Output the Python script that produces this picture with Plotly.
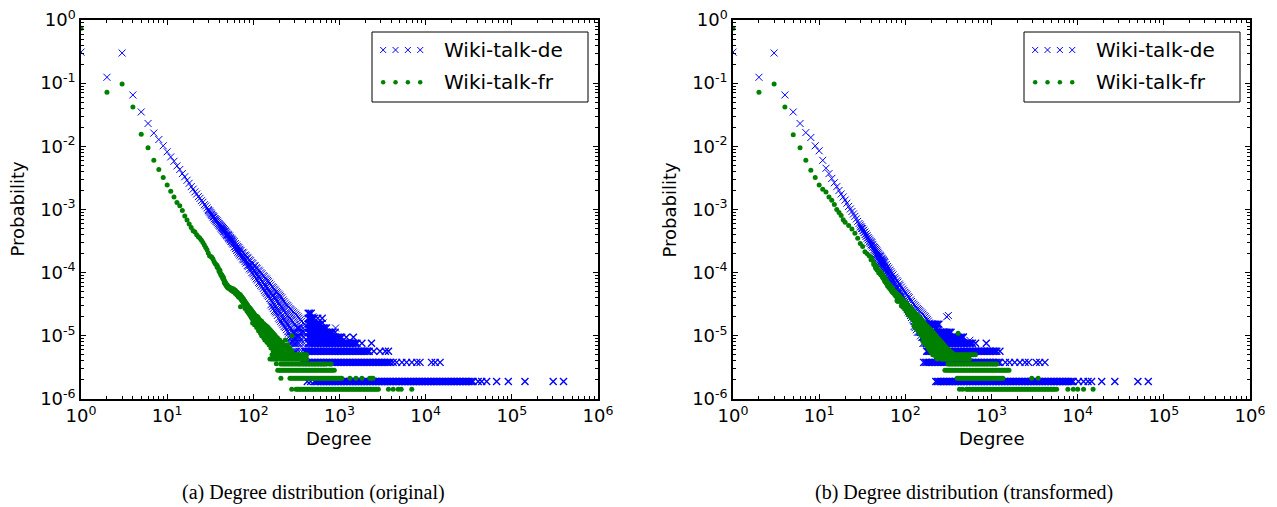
import plotly.graph_objects as go

# Degrees sampled along the dense tail rows (integer degrees, roughly 1.5 px apart on the axis)
deg_grid = [150, 156, 163, 170, 177, 184, 192, 200, 208, 217, 226, 235, 245, 255, 266, 277, 288, 300,
            313, 326, 339, 353, 368, 383, 399, 416, 433, 451, 470, 490, 510, 531, 553, 576, 600, 625,
            651, 678, 706, 736, 766, 798, 831, 866, 902, 940, 979, 1020, 1062, 1107, 1152, 1200, 1250,
            1302, 1356, 1413, 1471, 1533, 1596, 1663, 1732, 1804, 1879, 1958, 2039, 2124, 2212, 2305,
            2400, 2500, 2604, 2713, 2825, 2943, 3065, 3193, 3326, 3465, 3609, 3760, 3915, 4079, 4248,
            4425, 4609, 4802, 5001, 5210, 5426, 5653, 5887, 6133, 6387, 6654, 6930, 7220, 7519, 7833,
            8158, 8499, 8851, 9221, 9603, 10004, 10419, 10855, 11305, 11778, 12266, 12779, 13308,
            13865, 14439, 15043, 15667, 16322, 16998, 17709, 18443, 19214, 20011, 20848, 21712, 22620,
            23557, 24542, 25560, 26629, 27732, 28892, 30089, 31347, 32647, 34012, 35422]

# ======================= (a) original =======================
# Wiki-talk-de : one value per small degree
de_orig_head_deg = [1, 2, 3, 4, 5, 6, 7, 8, 9, 10, 11, 12, 13, 14, 15, 16, 17, 18, 19, 20]
de_orig_head_prob = [0.31, 0.124, 0.30, 0.065, 0.035, 0.023, 0.0162, 0.0128, 0.0102, 0.0082,
                     0.0068, 0.0058, 0.0049, 0.0043, 0.0037, 0.0033, 0.0029, 0.0026, 0.0023, 0.0021]
# Wiki-talk-de : scattered middle part (degree, probabilities)
de_orig_cloud = [
    (21, [1.9e-3]), (22, [1.76e-3]), (23, [1.6e-3]), (24, [1.5e-3]), (25, [1.38e-3]),
    (26, [1.3e-3]), (27, [1.19e-3]), (28, [1.14e-3]), (29, [1.06e-3]), (30, [1.0e-3, 9.6e-4]),
    (31, [9.5e-4, 9.1e-4]), (32, [8.9e-4, 8.5e-4]), (33, [8.4e-4, 8.0e-4]), (34, [8.0e-4, 7.6e-4]),
    (35, [7.6e-4, 7.1e-4]), (36, [7.2e-4, 6.8e-4]), (37, [6.9e-4, 6.5e-4]), (38, [6.6e-4, 6.2e-4]),
    (39, [6.3e-4, 5.9e-4]), (40, [6.0e-4, 5.6e-4]), (41, [5.8e-4, 5.4e-4]), (42, [5.6e-4, 5.1e-4]),
    (43, [5.4e-4, 4.9e-4]), (44, [5.2e-4, 4.7e-4]), (45, [5.0e-4, 4.5e-4]), (46, [4.8e-4, 4.4e-4]),
    (47, [4.6e-4, 4.2e-4]), (48, [4.5e-4, 4.0e-4]), (49, [4.3e-4, 3.9e-4]), (50, [4.1e-4, 3.8e-4]),
    (51, [4.0e-4, 3.6e-4]), (52, [3.9e-4, 3.5e-4]), (53, [3.8e-4, 3.4e-4]), (54, [3.6e-4, 3.3e-4]),
    (55, [3.5e-4, 3.15e-4]), (56, [3.4e-4, 3.1e-4]), (57, [3.3e-4, 2.95e-4]), (58, [3.2e-4, 2.85e-4]),
    (60, [3.1e-4, 2.8e-4, 2.55e-4]), (62, [2.9e-4, 2.6e-4, 2.4e-4]), (64, [2.75e-4, 2.45e-4, 2.25e-4]),
    (66, [2.6e-4, 2.3e-4, 2.1e-4]), (68, [2.5e-4, 2.2e-4, 2.0e-4]), (70, [2.35e-4, 2.1e-4, 1.9e-4]),
    (72, [2.25e-4, 2.0e-4, 1.8e-4]), (75, [2.1e-4, 1.85e-4, 1.65e-4]), (77, [2.05e-4, 1.8e-4, 1.6e-4]),
    (80, [1.9e-4, 1.65e-4, 1.5e-4]), (82, [1.85e-4, 1.6e-4, 1.42e-4]), (85, [1.75e-4, 1.5e-4, 1.3e-4]),
    (87, [1.7e-4, 1.45e-4, 1.25e-4]), (90, [1.6e-4, 1.35e-4, 1.15e-4]), (93, [1.55e-4, 1.3e-4, 1.1e-4]),
    (96, [1.45e-4, 1.2e-4, 1.0e-4]), (99, [1.4e-4, 1.15e-4, 9.6e-5]), (102, [1.3e-4, 1.08e-4, 9.0e-5]),
    (105, [1.28e-4, 1.02e-4, 8.6e-5]), (108, [1.2e-4, 9.6e-5, 8.0e-5]), (111, [1.17e-4, 9.2e-5, 7.6e-5]),
    (115, [1.1e-4, 8.6e-5, 7.0e-5]), (118, [1.06e-4, 8.2e-5, 6.7e-5]), (122, [1.0e-4, 7.7e-5, 6.3e-5]),
    (126, [9.6e-5, 7.3e-5, 6.0e-5]), (130, [9.0e-5, 7.0e-5, 5.6e-5]), (134, [8.7e-5, 6.6e-5, 5.2e-5]),
    (138, [8.2e-5, 6.2e-5, 4.9e-5]), (142, [7.9e-5, 5.9e-5, 4.7e-5]), (146, [7.5e-5, 5.6e-5, 4.4e-5]),
    (150, [7.2e-5, 5.3e-5, 4.2e-5]), (155, [6.8e-5, 5.0e-5, 3.9e-5]),
    (160, [6.4e-5, 4.8e-5, 3.7e-5, 3.1e-5]), (165, [6.0e-5, 4.5e-5, 3.5e-5, 2.9e-5]),
    (170, [5.8e-5, 4.3e-5, 3.3e-5, 2.7e-5]), (175, [5.5e-5, 4.0e-5, 3.1e-5, 2.5e-5]),
    (180, [5.3e-5, 3.9e-5, 2.9e-5, 2.4e-5]), (185, [5.0e-5, 3.7e-5, 2.7e-5, 2.3e-5]),
    (190, [4.8e-5, 3.5e-5, 2.6e-5, 2.1e-5]), (196, [4.6e-5, 3.3e-5, 2.5e-5, 1.9e-5]),
    (202, [4.4e-5, 3.1e-5, 2.4e-5, 1.8e-5]), (208, [4.2e-5, 2.9e-5, 2.3e-5, 1.7e-5]),
    (214, [4.0e-5, 2.8e-5, 2.1e-5, 1.6e-5]), (220, [3.7e-5, 2.7e-5, 1.9e-5, 1.5e-5]),
    (227, [3.5e-5, 2.5e-5, 1.8e-5, 1.4e-5]), (235, [3.3e-5, 2.3e-5, 1.7e-5, 1.35e-5]),
    (242, [3.1e-5, 2.2e-5, 1.6e-5, 1.25e-5]), (250, [3.0e-5, 2.1e-5, 1.54e-5, 1.16e-5]),
    (257, [2.85e-5, 2.0e-5, 1.45e-5, 1.1e-5, 9.5e-6]), (265, [2.7e-5, 1.9e-5, 1.35e-5, 1.0e-5, 7.6e-6]),
    (272, [2.6e-5, 1.8e-5, 1.3e-5, 9.5e-6, 7.6e-6]), (280, [2.5e-5, 1.75e-5, 1.16e-5, 9.5e-6, 7.6e-6]),
    (290, [2.4e-5, 1.65e-5, 1.14e-5, 9.5e-6, 7.6e-6, 5.7e-6]),
    (300, [2.3e-5, 1.52e-5, 1.14e-5, 9.5e-6, 7.6e-6, 5.7e-6]),
    (310, [2.2e-5, 1.43e-5, 1.14e-5, 9.5e-6, 7.6e-6, 5.7e-6]),
    (320, [2.1e-5, 1.33e-5, 9.5e-6, 7.6e-6, 5.7e-6]), (330, [2.0e-5, 1.33e-5, 1.14e-5, 9.5e-6, 7.6e-6]),
    (340, [1.9e-5, 1.33e-5, 9.5e-6, 7.6e-6, 5.7e-6]), (352, [1.8e-5, 1.33e-5, 1.14e-5, 9.5e-6]),
    (365, [1.71e-5, 1.14e-5, 7.6e-6, 5.7e-6]), (378, [1.6e-5, 1.33e-5, 1.14e-5, 9.5e-6]),
    (390, [1.52e-5, 1.14e-5, 9.5e-6, 7.6e-6, 5.7e-6]),
    (490, [2.0e-5]), (645, [1.6e-5]), (900, [1.33e-5]),
]
# Wiki-talk-de : tail rows -> (probability level, first degree, last degree of the solid run, isolated degrees)
de_orig_rows = [
    (1.9e-6, 508, 35422, [423, 462, 40700, 44700, 51000, 66600, 91000, 142000, 302000, 398000]),
    (3.8e-6, 368, 3915, [4200, 4600, 5300, 6000, 6900, 7900, 8600, 11700, 12900, 14700]),
    (5.7e-6, 399, 2212, [2500, 2950, 3400, 3700]),
    (7.6e-6, 433, 1596, [1820, 2350]),
    (9.5e-6, 433, 1062, [1200, 1450]),
    (1.14e-5, 433, 831, [890]),
    (1.33e-5, 433, 706, []),
    (1.52e-5, 433, 600, []),
    (1.9e-5, 433, 510, [560, 630]),
    (2.28e-5, 433, 470, []),
]

# Wiki-talk-fr
fr_orig_head_deg = [1, 2, 3, 4, 5, 6, 7, 8, 9, 10, 11, 12, 13, 14, 15, 16, 17, 18, 19, 20, 21]
fr_orig_head_prob = [0.74, 0.072, 0.097, 0.042, 0.0155, 0.0095, 0.006, 0.0043, 0.0032, 0.00245,
                     0.00195, 0.00158, 0.00129, 0.00115, 0.00096, 0.00079, 0.00068, 0.00059,
                     0.00052, 0.00046, 0.00044]
fr_orig_cloud = [
    (22, [4.0e-4]), (23, [3.7e-4]), (24, [3.5e-4]), (25, [3.25e-4]), (26, [3.0e-4]), (27, [2.75e-4]),
    (28, [2.5e-4]), (29, [2.3e-4]), (30, [2.05e-4]), (31, [1.85e-4]), (32, [1.8e-4]), (33, [1.75e-4]),
    (34, [1.65e-4]), (35, [1.5e-4]), (36, [1.4e-4]), (37, [1.35e-4]), (38, [1.3e-4, 1.22e-4]),
    (39, [1.2e-4]), (40, [1.12e-4, 1.05e-4]), (41, [1.08e-4, 1.0e-4]), (42, [9.6e-5, 9.2e-5]),
    (43, [9.3e-5, 8.8e-5]), (44, [8.8e-5, 8.2e-5]), (45, [8.4e-5, 7.8e-5]), (46, [7.6e-5, 7.0e-5]),
    (47, [7.2e-5, 6.7e-5]), (48, [6.8e-5, 6.4e-5]), (49, [6.5e-5, 6.1e-5]), (50, [6.3e-5, 5.9e-5]),
    (51, [6.1e-5, 5.7e-5]), (53, [5.9e-5, 5.5e-5]), (55, [5.7e-5, 5.3e-5]), (56, [5.6e-5, 5.2e-5]),
    (58, [5.5e-5, 5.1e-5]), (59, [5.5e-5, 5.0e-5]), (61, [5.3e-5, 4.8e-5]), (62, [5.2e-5, 4.7e-5]),
    (64, [5.0e-5, 4.5e-5]), (65, [4.9e-5, 4.4e-5]), (67, [4.7e-5, 4.2e-5]), (68, [4.6e-5, 4.1e-5]),
    (70, [4.5e-5, 4.0e-5]), (71, [4.4e-5, 3.9e-5, 2.9e-5]), (73, [4.2e-5, 3.7e-5]),
    (74, [4.1e-5, 3.6e-5]), (76, [3.9e-5, 3.4e-5]), (77, [3.8e-5, 3.3e-5]), (79, [3.6e-5, 3.2e-5]),
    (80, [3.5e-5, 3.1e-5, 2.7e-5]), (82, [3.35e-5, 2.95e-5]), (84, [3.2e-5, 2.8e-5, 2.5e-5]),
    (86, [3.05e-5, 2.7e-5, 2.4e-5]), (88, [2.9e-5, 2.6e-5, 2.3e-5]), (90, [2.8e-5, 2.5e-5, 2.2e-5]),
    (92, [2.7e-5, 2.4e-5, 2.1e-5]), (94, [2.6e-5, 2.3e-5, 2.0e-5]), (96, [2.5e-5, 2.2e-5, 1.9e-5]),
    (98, [2.4e-5, 2.1e-5, 1.85e-5, 1.6e-5]), (101, [2.3e-5, 2.0e-5, 1.8e-5]),
    (103, [2.2e-5, 1.95e-5, 1.7e-5, 1.5e-5]), (106, [2.1e-5, 1.85e-5, 1.6e-5]),
    (109, [2.05e-5, 1.8e-5, 1.55e-5, 1.35e-5]), (112, [2.0e-5, 1.7e-5, 1.5e-5]),
    (115, [1.9e-5, 1.65e-5, 1.4e-5, 1.2e-5]), (118, [1.8e-5, 1.6e-5, 1.35e-5]),
    (121, [1.75e-5, 1.5e-5, 1.3e-5, 1.1e-5]),
    (125, [1.7e-5, 1.45e-5, 1.25e-5, 1.0e-5]), (128, [1.6e-5, 1.4e-5, 1.2e-5, 1.0e-5]),
    (132, [1.55e-5, 1.35e-5, 1.15e-5, 9.3e-6]), (136, [1.5e-5, 1.25e-5, 1.07e-5, 8.6e-6]),
    (140, [1.45e-5, 1.2e-5, 1.0e-5, 8.6e-6]), (144, [1.4e-5, 1.15e-5, 9.3e-6, 7.9e-6]),
    (148, [1.35e-5, 1.1e-5, 9.3e-6, 7.9e-6]), (152, [1.3e-5, 1.07e-5, 8.6e-6, 7.2e-6]),
    (156, [1.25e-5, 1.0e-5, 8.6e-6, 7.2e-6]), (160, [1.2e-5, 9.3e-6, 7.9e-6, 6.4e-6]),
    (165, [1.15e-5, 9.3e-6, 7.9e-6, 6.4e-6, 5.0e-6]), (170, [1.1e-5, 8.6e-6, 7.2e-6, 5.7e-6, 5.0e-6]),
    (175, [1.05e-5, 8.6e-6, 7.2e-6, 5.7e-6]), (180, [1.0e-5, 7.9e-6, 6.4e-6, 5.0e-6]),
    (185, [9.3e-6, 7.9e-6, 6.4e-6, 5.0e-6, 3.6e-6]), (190, [9.3e-6, 7.2e-6, 5.7e-6]),
    (196, [8.6e-6, 7.2e-6, 5.7e-6, 5.0e-6]), (202, [8.6e-6, 6.4e-6, 5.0e-6]),
    (208, [7.9e-6, 6.4e-6, 5.0e-6]), (214, [7.9e-6, 5.7e-6]),
    (220, [7.2e-6, 5.7e-6, 5.0e-6]), (227, [7.2e-6, 5.0e-6]),
    (235, [8.6e-6, 6.4e-6, 5.0e-6]), (242, [6.4e-6, 5.0e-6]),
    (250, [7.2e-6, 5.7e-6, 5.0e-6]), (257, [5.7e-6]),
    (265, [6.4e-6, 5.0e-6]), (280, [1.0e-5, 5.7e-6]), (300, [5.0e-6]),
    (209, [2.14e-6]),
]
fr_orig_rows = [
    (1.43e-6, 313, 2825, [279, 3700, 4200, 4800, 5200, 6900]),
    (2.14e-6, 266, 1062, [1320, 1550, 1820, 2240, 2340, 2450]),
    (2.86e-6, 192, 831, [870]),
    (3.57e-6, 208, 706, [768, 800]),
    (4.29e-6, 156, 416, []),
    (5.0e-6, 288, 416, []),
]

# ======================= (b) transformed =======================
de_tran_head_deg = [1, 2, 3, 4, 5, 6, 7, 8, 9, 10, 11, 12, 13, 14, 15, 16, 17, 18, 19, 20, 21,
                    22, 23, 24, 25, 26, 27, 28, 29]
de_tran_head_prob = [0.31, 0.124, 0.30, 0.065, 0.035, 0.023, 0.0165, 0.0138, 0.0102, 0.0085,
                     0.006, 0.0045, 0.0037, 0.0031, 0.00265, 0.0023, 0.002, 0.00176, 0.00158,
                     0.00141, 0.00126, 0.00112, 0.00102, 9.3e-4, 8.5e-4, 7.8e-4, 7.1e-4, 6.5e-4, 6.0e-4]
de_tran_cloud = [
    (30, [5.7e-4, 5.3e-4]), (31, [5.3e-4, 5.0e-4]), (32, [5.0e-4, 4.6e-4]), (33, [4.7e-4, 4.3e-4]),
    (34, [4.4e-4, 4.0e-4]), (35, [4.1e-4, 3.75e-4]), (36, [3.85e-4, 3.5e-4]), (37, [3.6e-4, 3.3e-4]),
    (38, [3.4e-4, 3.05e-4]), (39, [3.25e-4, 2.9e-4]), (40, [3.1e-4, 2.75e-4]), (41, [3.0e-4, 2.65e-4]),
    (42, [2.8e-4, 2.5e-4]), (43, [2.6e-4, 2.3e-4]), (44, [2.5e-4, 2.2e-4]), (45, [2.4e-4, 2.1e-4]),
    (46, [2.3e-4, 2.0e-4, 1.9e-4]), (47, [2.2e-4, 1.9e-4, 1.8e-4]), (48, [2.1e-4, 1.8e-4, 1.7e-4]),
    (49, [2.0e-4, 1.75e-4, 1.6e-4]), (50, [1.9e-4, 1.7e-4, 1.55e-4]), (51, [1.85e-4, 1.6e-4, 1.48e-4]),
    (52, [1.8e-4, 1.55e-4, 1.4e-4]), (53, [1.7e-4, 1.5e-4, 1.35e-4]), (54, [1.65e-4, 1.45e-4, 1.28e-4]),
    (55, [1.6e-4, 1.38e-4, 1.22e-4]), (56, [1.55e-4, 1.33e-4, 1.17e-4]), (57, [1.5e-4, 1.28e-4, 1.12e-4]),
    (58, [1.45e-4, 1.22e-4, 1.08e-4]), (60, [1.35e-4, 1.15e-4, 1.0e-4]),
    (62, [1.25e-4, 1.07e-4, 9.2e-5]), (64, [1.18e-4, 1.0e-4, 8.5e-5]), (66, [1.1e-4, 9.2e-5, 7.8e-5]),
    (68, [1.04e-4, 8.6e-5, 7.3e-5]), (70, [9.8e-5, 8.1e-5, 6.8e-5]), (72, [9.2e-5, 7.6e-5, 6.3e-5]),
    (75, [8.5e-5, 6.9e-5, 5.8e-5]), (77, [8.0e-5, 6.5e-5, 5.4e-5]), (80, [7.5e-5, 6.0e-5, 4.9e-5]),
    (82, [7.1e-5, 5.7e-5, 4.6e-5]), (85, [6.6e-5, 5.2e-5, 4.2e-5]), (87, [6.3e-5, 4.9e-5, 4.0e-5]),
    (90, [5.9e-5, 4.6e-5, 3.7e-5]), (93, [5.5e-5, 4.3e-5, 3.4e-5]), (96, [5.2e-5, 4.0e-5, 3.2e-5]),
    (99, [4.9e-5, 3.7e-5, 3.0e-5]), (102, [4.7e-5, 3.5e-5, 2.8e-5]), (105, [4.45e-5, 3.3e-5, 2.6e-5]),
    (108, [4.2e-5, 3.1e-5, 2.4e-5]), (111, [4.0e-5, 2.9e-5, 2.25e-5]), (115, [3.7e-5, 2.7e-5, 2.1e-5]),
    (118, [3.5e-5, 2.55e-5, 1.95e-5]), (122, [3.3e-5, 2.4e-5, 1.8e-5]),
    (126, [3.15e-5, 2.25e-5, 1.7e-5, 1.4e-5]), (130, [3.0e-5, 2.1e-5, 1.6e-5, 1.35e-5]),
    (134, [2.85e-5, 2.0e-5, 1.52e-5, 1.25e-5]), (138, [2.7e-5, 1.9e-5, 1.45e-5, 1.14e-5]),
    (142, [2.6e-5, 1.82e-5, 1.4e-5, 1.14e-5]), (146, [2.5e-5, 1.75e-5, 1.33e-5, 1.14e-5]),
    (150, [2.4e-5, 1.65e-5, 1.25e-5, 1.0e-5]), (155, [2.3e-5, 1.55e-5, 1.14e-5, 9.5e-6]),
    (160, [2.2e-5, 1.5e-5, 1.14e-5, 9.5e-6, 7.6e-6]), (165, [2.1e-5, 1.4e-5, 1.14e-5, 9.5e-6, 7.6e-6]),
    (170, [2.0e-5, 1.36e-5, 1.05e-5, 8.5e-6, 7.6e-6]), (175, [1.9e-5, 1.33e-5, 9.5e-6, 7.6e-6]),
    (180, [1.8e-5, 1.25e-5, 9.5e-6, 7.6e-6, 5.7e-6]), (185, [1.71e-5, 1.14e-5, 9.5e-6, 7.6e-6, 5.7e-6]),
    (190, [1.6e-5, 1.14e-5, 9.5e-6, 7.6e-6, 5.7e-6]), (196, [1.52e-5, 1.14e-5, 9.5e-6, 7.6e-6, 5.7e-6]),
    (202, [1.52e-5, 1.14e-5, 8.5e-6, 7.6e-6, 5.7e-6]), (208, [1.52e-5, 1.14e-5, 7.6e-6, 5.7e-6]),
    (214, [1.42e-5, 1.05e-5, 7.6e-6, 5.7e-6]), (220, [1.33e-5, 9.5e-6, 7.6e-6, 5.7e-6]),
    (227, [1.33e-5, 9.5e-6, 7.6e-6, 5.7e-6]), (235, [1.33e-5, 9.5e-6, 7.6e-6, 5.7e-6]),
    (242, [1.25e-5, 9.5e-6, 7.6e-6, 5.7e-6]), (250, [1.14e-5, 7.6e-6, 5.7e-6]),
    (265, [1.14e-5, 9.5e-6, 7.6e-6, 5.7e-6]), (280, [1.14e-5, 7.6e-6, 5.7e-6]),
    (302, [2.0e-5]), (316, [2.1e-5]), (470, [9.7e-6]), (560, [8.5e-6]),
]
de_tran_rows = [
    (1.9e-6, 226, 8851, [10200, 11700, 13200, 14500, 19000, 27000, 50000, 66000]),
    (3.8e-6, 163, 1250, [1450, 1620, 1860, 2140, 2450, 2690, 3300, 3630, 4170]),
    (5.7e-6, 177, 1152, [1253]),
    (7.6e-6, 177, 600, [653, 870]),
    (9.5e-6, 163, 470, []),
    (1.14e-5, 150, 339, []),
    (1.52e-5, 150, 245, []),
]

fr_tran_head_deg = [1, 2, 3, 4, 5, 6, 7, 8, 9, 10, 11, 12, 13, 14, 15, 16, 17, 18, 19, 20]
fr_tran_head_prob = [0.74, 0.072, 0.097, 0.042, 0.0153, 0.0095, 0.006, 0.0042, 0.0032, 0.00245,
                     0.0021, 0.0019, 0.00158, 0.0014, 0.0012, 0.001, 9.0e-4, 8.0e-4, 6.9e-4, 6.3e-4]
fr_tran_cloud = [
    (22, [5.6e-4]), (24, [4.9e-4]), (26, [4.2e-4]), (28, [3.5e-4]), (30, [2.9e-4]), (32, [2.6e-4]),
    (34, [2.15e-4]), (36, [2.0e-4]), (38, [1.85e-4]), (40, [1.75e-4, 1.6e-4]), (41, [1.65e-4]),
    (43, [1.45e-4, 1.35e-4]), (45, [1.3e-4, 1.2e-4]), (46, [1.25e-4, 1.15e-4]), (47, [1.2e-4, 1.1e-4]),
    (49, [1.1e-4, 1.0e-4]), (51, [1.05e-4, 9.6e-5]), (52, [1.02e-4, 9.2e-5]), (54, [9.5e-5, 8.6e-5]),
    (55, [9.0e-5, 8.2e-5]), (57, [8.4e-5, 7.6e-5]), (58, [8.0e-5, 7.2e-5]), (60, [7.6e-5, 6.8e-5]),
    (62, [7.0e-5, 6.2e-5]), (64, [6.6e-5, 5.9e-5]), (66, [6.3e-5, 5.6e-5]), (68, [6.0e-5, 5.3e-5]),
    (70, [5.7e-5, 5.0e-5]), (72, [5.4e-5, 4.8e-5]), (75, [5.1e-5, 4.5e-5]), (77, [4.9e-5, 4.3e-5]),
    (80, [4.6e-5, 4.0e-5, 3.6e-5]), (82, [4.5e-5, 3.9e-5, 3.5e-5]), (85, [4.3e-5, 3.7e-5]),
    (87, [4.1e-5, 3.6e-5]), (90, [3.9e-5, 3.4e-5, 3.0e-5]), (93, [3.75e-5, 3.3e-5, 2.9e-5]),
    (96, [3.6e-5, 3.2e-5, 2.8e-5]), (99, [3.45e-5, 3.05e-5, 2.65e-5]), (102, [3.3e-5, 2.9e-5, 2.5e-5]),
    (105, [3.15e-5, 2.75e-5, 2.35e-5]), (108, [3.0e-5, 2.6e-5, 2.2e-5]), (111, [2.9e-5, 2.5e-5, 2.1e-5]),
    (115, [2.8e-5, 2.4e-5, 2.0e-5]), (118, [2.65e-5, 2.3e-5, 1.9e-5]), (122, [2.5e-5, 2.15e-5, 1.8e-5]),
    (126, [2.4e-5, 2.05e-5, 1.7e-5, 1.45e-5]), (130, [2.3e-5, 1.95e-5, 1.6e-5, 1.35e-5]),
    (134, [2.2e-5, 1.87e-5, 1.55e-5, 1.3e-5]), (138, [2.1e-5, 1.8e-5, 1.5e-5, 1.25e-5]),
    (142, [2.0e-5, 1.7e-5, 1.42e-5, 1.17e-5]), (146, [1.9e-5, 1.6e-5, 1.35e-5, 1.1e-5]),
    (150, [1.85e-5, 1.52e-5, 1.27e-5, 1.05e-5]), (155, [1.8e-5, 1.45e-5, 1.2e-5, 1.0e-5]),
    (160, [1.7e-5, 1.37e-5, 1.15e-5, 9.6e-6, 8.2e-6]), (165, [1.6e-5, 1.3e-5, 1.1e-5, 9.3e-6, 7.9e-6]),
    (170, [1.52e-5, 1.25e-5, 1.05e-5, 8.9e-6, 7.5e-6]), (175, [1.45e-5, 1.2e-5, 1.0e-5, 8.6e-6, 7.2e-6]),
    (180, [1.4e-5, 1.15e-5, 9.6e-6, 8.2e-6, 6.8e-6]), (185, [1.35e-5, 1.1e-5, 9.3e-6, 7.9e-6, 6.4e-6]),
    (190, [1.3e-5, 1.05e-5, 8.9e-6, 7.5e-6, 6.1e-6]), (196, [1.25e-5, 1.0e-5, 8.6e-6, 7.2e-6, 5.7e-6]),
    (202, [1.2e-5, 9.6e-6, 8.2e-6, 6.8e-6, 5.4e-6]), (208, [1.15e-5, 9.3e-6, 7.9e-6, 6.4e-6, 5.0e-6]),
    (214, [1.1e-5, 8.9e-6, 7.5e-6, 6.1e-6, 5.0e-6]), (220, [1.05e-5, 8.6e-6, 7.2e-6, 5.7e-6, 5.0e-6]),
    (227, [1.0e-5, 8.2e-6, 6.8e-6, 5.4e-6, 4.6e-6]), (235, [9.3e-6, 7.9e-6, 6.4e-6, 5.0e-6, 4.3e-6]),
    (242, [9.0e-6, 7.5e-6, 6.1e-6, 5.0e-6]), (250, [8.6e-6, 7.2e-6, 5.7e-6, 5.0e-6]),
    (257, [8.2e-6, 6.8e-6, 5.4e-6, 4.6e-6]), (265, [7.9e-6, 6.4e-6, 5.0e-6, 4.3e-6]),
    (272, [7.5e-6, 6.1e-6, 5.0e-6]), (280, [7.2e-6, 5.7e-6, 5.0e-6]), (290, [6.8e-6, 5.4e-6, 4.6e-6]),
    (300, [6.4e-6, 5.0e-6, 4.3e-6]), (315, [6.1e-6, 5.0e-6, 4.3e-6]), (330, [5.7e-6, 5.0e-6]),
    (350, [5.4e-6, 5.0e-6]), (410, [1.1e-5]),
]
fr_tran_rows = [
    (1.43e-6, 510, 5426, [425, 460, 5700, 7700, 8900, 10000, 11700, 15100]),
    (2.14e-6, 399, 1356, [2930, 3480]),
    (2.86e-6, 288, 1596, []),
    (3.57e-6, 313, 1152, []),
    (4.29e-6, 266, 553, []),
    (5.0e-6, 245, 651, []),
]

series_names = ["Wiki-talk-de", "Wiki-talk-fr"]
captions = ["(a) Degree distribution (original)", "(b) Degree distribution (transformed)"]
x_tick_vals = [1, 10, 100, 1000, 10000, 100000, 1000000]
x_tick_text = ["10<sup>0</sup>", "10<sup>1</sup>", "10<sup>2</sup>", "10<sup>3</sup>",
               "10<sup>4</sup>", "10<sup>5</sup>", "10<sup>6</sup>"]
y_tick_vals = [1e-6, 1e-5, 1e-4, 1e-3, 1e-2, 1e-1, 1]
y_tick_text = ["10<sup>-6</sup>", "10<sup>-5</sup>", "10<sup>-4</sup>", "10<sup>-3</sup>",
               "10<sup>-2</sup>", "10<sup>-1</sup>", "10<sup>0</sup>"]

BLUE = "#0000ff"
GREEN = "#008000"
FONT = "DejaVu Sans"
W, H = 1277, 507


def assemble(head_deg, head_prob, cloud, rows):
    """Flatten the pieces of one series into x, y and a 'dense row' flag per point."""
    xs, ys, dense = list(head_deg), list(head_prob), [False] * len(head_deg)
    for d, ps in cloud:
        for p in ps:
            xs.append(d)
            ys.append(p)
            dense.append(False)
    for lvl, first, last, extra in rows:
        degs = [d for d in deg_grid if first <= d <= last] + extra
        for d in degs:
            xs.append(d)
            ys.append(lvl)
            dense.append(True)
    return xs, ys, dense


panels = [
    (assemble(de_orig_head_deg, de_orig_head_prob, de_orig_cloud, de_orig_rows),
     assemble(fr_orig_head_deg, fr_orig_head_prob, fr_orig_cloud, fr_orig_rows)),
    (assemble(de_tran_head_deg, de_tran_head_prob, de_tran_cloud, de_tran_rows),
     assemble(fr_tran_head_deg, fr_tran_head_prob, fr_tran_cloud, fr_tran_rows)),
]

fig = go.Figure()

left_px = [81, 733]
plot_w = 517
top_px, bot_px = 20, 399

x_minor = [m * 10 ** e for e in range(0, 6) for m in range(2, 10)]
y_minor = [m * 10.0 ** e for e in range(-6, 0) for m in range(2, 10)]

layout = dict(
    width=W, height=H, margin=dict(l=0, r=0, t=0, b=0, autoexpand=False),
    paper_bgcolor="white", plot_bgcolor="white", showlegend=False,
    font=dict(family=FONT, color="black"), template="none",
)
shapes = []
annotations = []

for i, (de_xy, fr_xy) in enumerate(panels):
    n = "" if i == 0 else "2"
    xa, ya = "x" + n, "y" + n
    fig.add_trace(go.Scatter(
        x=de_xy[0], y=de_xy[1], mode="markers", name=series_names[0], xaxis=xa, yaxis=ya,
        marker=dict(symbol="x-thin", size=7, color=BLUE,
                    line=dict(width=[1.4 if d else 1.0 for d in de_xy[2]], color=BLUE)),
        cliponaxis=True))
    fig.add_trace(go.Scatter(
        x=fr_xy[0], y=fr_xy[1], mode="markers", name=series_names[1], xaxis=xa, yaxis=ya,
        marker=dict(symbol="circle", size=5, color=GREEN, line=dict(width=0)),
        cliponaxis=True))
    L = left_px[i]
    common = dict(type="log", showline=True, linecolor="black", linewidth=1.5, mirror="allticks",
                  ticks="inside", ticklen=5, tickwidth=1, tickcolor="black", showgrid=False,
                  zeroline=False, automargin=False, tickfont=dict(family=FONT, size=18, color="black"))
    minor = dict(ticks="inside", ticklen=3, tickwidth=1, tickcolor="black", showgrid=False,
                 tickmode="array")
    xax = dict(common, domain=[L / W, (L + plot_w) / W], range=[0, 6], anchor=ya,
               tickmode="array", tickvals=x_tick_vals, ticktext=x_tick_text,
               minor=dict(minor, tickvals=x_minor))
    yax = dict(common, domain=[1 - bot_px / H, 1 - top_px / H], range=[-6, 0], anchor=xa,
               tickmode="array", tickvals=y_tick_vals, ticktext=y_tick_text,
               minor=dict(minor, tickvals=y_minor))
    layout["xaxis" + n] = xax
    layout["yaxis" + n] = yax

    # legend frame, labels and swatches
    lx0, lx1 = L + 291, L + 507
    shapes.append(dict(type="rect", xref="paper", yref="paper", x0=lx0 / W, x1=lx1 / W,
                       y0=1 - 102 / H, y1=1 - 32 / H, line=dict(color="black", width=1),
                       fillcolor="rgba(0,0,0,0)", layer="above"))
    for j, (label, yy) in enumerate(zip(series_names, [50, 82])):
        annotations.append(dict(text=label, xref="paper", yref="paper", x=(L + 361) / W, y=1 - yy / H,
                                xanchor="left", yanchor="middle", showarrow=False,
                                font=dict(family=FONT, size=20, color="black")))
    k = str(3 + i)
    layout["xaxis" + k] = dict(domain=[(L + 296) / W, (L + 345.4) / W], range=[-0.5, 3.5],
                               visible=False, anchor="y" + k, fixedrange=True, automargin=False)
    layout["yaxis" + k] = dict(domain=[1 - 98.5 / H, 1 - 33.8 / H], range=[-0.5, 1.5],
                               visible=False, anchor="x" + k, fixedrange=True, automargin=False)
    fig.add_trace(go.Scatter(x=[0, 1, 2, 3], y=[1, 1, 1, 1], mode="markers", xaxis="x" + k,
                             yaxis="y" + k, hoverinfo="skip",
                             marker=dict(symbol="x-thin", size=6, color=BLUE, line=dict(width=1, color=BLUE))))
    fig.add_trace(go.Scatter(x=[0, 1, 2, 3], y=[0, 0, 0, 0], mode="markers", xaxis="x" + k,
                             yaxis="y" + k, hoverinfo="skip",
                             marker=dict(symbol="circle", size=4.5, color=GREEN)))

    # axis titles
    annotations.append(dict(text="Degree", xref="paper", yref="paper", x=(L + plot_w / 2) / W,
                            y=1 - 438 / H, xanchor="center", yanchor="middle", showarrow=False,
                            font=dict(family=FONT, size=18, color="black")))
    annotations.append(dict(text="Probability", xref="paper", yref="paper", x=(L - 64) / W,
                            y=1 - (top_px + bot_px) / 2 / H, xanchor="center", yanchor="middle",
                            textangle=-90, showarrow=False,
                            font=dict(family=FONT, size=18, color="black")))
    # sub-figure caption
    annotations.append(dict(text=captions[i], xref="paper", yref="paper", x=[313, 964][i] / W,
                            y=1 - 492 / H, xanchor="center", yanchor="middle", showarrow=False,
                            font=dict(family="Liberation Serif", size=20, color="black")))

layout["shapes"] = shapes
layout["annotations"] = annotations
fig.update_layout(**layout)
fig.write_html("out.html")
